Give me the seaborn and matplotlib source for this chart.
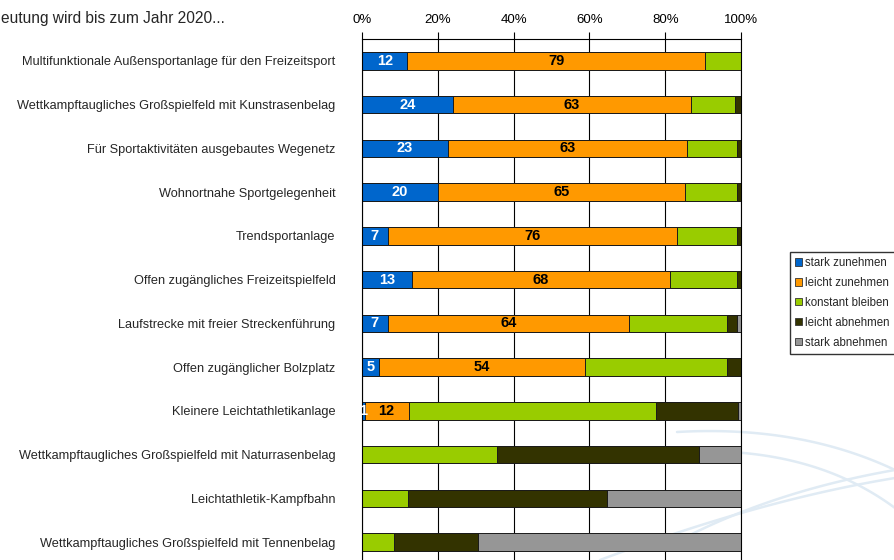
import numpy as np
import pandas as pd
import seaborn as sns
import matplotlib.pyplot as plt
from matplotlib.patches import Patch

# Chart data (percent of answers per facility type)
categories = [
    'Multifunktionale Außensportanlage für den Freizeitsport',
    'Wettkampftaugliches Großspielfeld mit Kunstrasenbelag',
    'Für Sportaktivitäten ausgebautes Wegenetz',
    'Wohnortnahe Sportgelegenheit',
    'Trendsportanlage',
    'Offen zugängliches Freizeitspielfeld',
    'Laufstrecke mit freier Streckenführung',
    'Offen zugänglicher Bolzplatz',
    'Kleinere Leichtathletikanlage',
    'Wettkampftaugliches Großspielfeld mit Naturrasenbelag',
    'Leichtathletik-Kampfbahn',
    'Wettkampftaugliches Großspielfeld mit Tennenbelag',
]
stark_zunehmen = [12.0, 24.0, 22.7, 20.0, 6.8, 13.1, 6.8, 4.6, 0.7, 0, 0, 0]
leicht_zunehmen = [78.6, 62.8, 63.1, 65.3, 76.3, 68.2, 63.6, 54.2, 11.6, 0, 0, 0]
konstant_bleiben = [9.4, 11.5, 13.2, 13.7, 15.9, 17.7, 25.8, 37.4, 65.2, 35.7, 12.2, 8.4]
leicht_abnehmen = [0, 1.7, 1.0, 1.0, 1.0, 1.0, 2.8, 3.8, 21.6, 53.3, 52.4, 22.2]
stark_abnehmen = [0, 0, 0, 0, 0, 0, 1.0, 0, 0.9, 11.0, 35.4, 69.4]

series_names = ['stark zunehmen', 'leicht zunehmen', 'konstant bleiben',
                'leicht abnehmen', 'stark abnehmen']
colors = ['#0066CC', '#FF9900', '#99CC00', '#333300', '#969696']
x_ticks = [0, 20, 40, 60, 80, 100]
# the slide's heading is cropped at the left edge in the source
title = 'eutung wird bis zum Jahr 2020...'

df = pd.DataFrame({
    'Kategorie': categories,
    series_names[0]: stark_zunehmen,
    series_names[1]: leicht_zunehmen,
    series_names[2]: konstant_bleiben,
    series_names[3]: leicht_abnehmen,
    series_names[4]: stark_abnehmen,
})
cum = df[series_names].cumsum(axis=1)

sns.set_style('white')
plt.rcParams['font.family'] = ['Liberation Sans', 'DejaVu Sans']

fig = plt.figure(figsize=(8.95, 5.6), dpi=100)

# faint decorative swooshes of the slide background (pixel coords)
bg = fig.add_axes([0, 0, 1, 1], zorder=-1)
bg.set_xlim(0, 895)
bg.set_ylim(560, 0)
bg.axis('off')
t = np.linspace(0, 1, 100)[:, None]
for p0, p1, p2 in [((677, 432), (800, 425), (895, 470)),
                   ((680, 452), (810, 445), (895, 508)),
                   ((690, 535), (780, 490), (895, 470)),
                   ((600, 560), (760, 500), (895, 478))]:
    pts = (1 - t) ** 2 * np.array(p0) + 2 * (1 - t) * t * np.array(p1) + t ** 2 * np.array(p2)
    bg.plot(pts[:, 0], pts[:, 1], color='#e0ebf4', lw=1.8)

ax = fig.add_axes([362 / 895, 1 - 564 / 560, 379 / 895, 525 / 560])
ax.set_facecolor('none')

# stacked bars: draw cumulative layers from the back
for i in reversed(range(len(series_names))):
    sns.barplot(x=cum[series_names[i]], y=df['Kategorie'], orient='h',
                color=colors[i], saturation=1, width=0.4,
                edgecolor='#1a1a1a', linewidth=0.7, ax=ax)

# value labels for the two "zunehmen" segments
for j in range(len(categories)):
    b = stark_zunehmen[j]
    o = leicht_zunehmen[j]
    if b > 0:
        ax.text(b / 2, j, f'{round(b)}', ha='center', va='center',
                color='white', fontsize=10.5, fontweight='bold')
    if o > 0:
        ax.text(b + o / 2, j, f'{round(o)}', ha='center', va='center',
                color='black', fontsize=10.5, fontweight='bold')

ax.set_xlim(0, 100)
ax.set_ylim(len(categories) - 0.5, -0.5)
ax.set_xlabel('')
ax.set_ylabel('')

ax.xaxis.tick_top()
ax.set_xticks(x_ticks)
ax.set_xticklabels([f'{t}%' for t in x_ticks], fontsize=9.5)
ax.tick_params(axis='x', direction='out', length=5, width=0.8, pad=4.5, colors='black')
ax.xaxis.grid(True, color='black', linewidth=0.8)
ax.set_axisbelow(True)

ax.tick_params(axis='y', which='major', length=0, pad=19, labelsize=9.2)
ax.set_yticks(np.arange(-0.5, len(categories), 1), minor=True)
ax.tick_params(axis='y', which='minor', direction='out', length=5, width=0.8, color='black')

for side in ['top', 'left', 'right', 'bottom']:
    ax.spines[side].set_visible(True)
    ax.spines[side].set_color('black')
    ax.spines[side].set_linewidth(0.8)

fig.text(1 / 895, 1 - 19 / 560, title, ha='left', va='center', fontsize=11.2)

handles = [Patch(facecolor=c, edgecolor='#333333', linewidth=0.6) for c in colors]
fig.legend(handles, series_names, loc='upper left',
           bbox_to_anchor=(790 / 895, 1 - 252 / 560), frameon=True,
           fancybox=False, edgecolor='black', fontsize=8.3,
           handlelength=0.6, handleheight=0.6, handletextpad=0.25,
           labelspacing=0.68, borderpad=0.45, borderaxespad=0)

fig.savefig('out.png', dpi=100)
